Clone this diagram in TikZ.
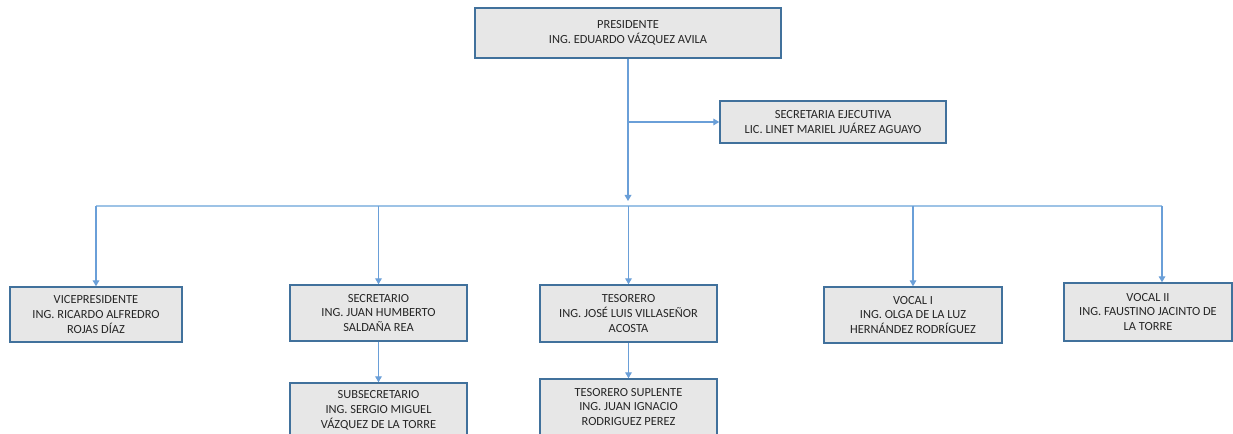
\documentclass[tikz,border=0pt]{standalone}
\usepackage{fontspec}
\setmainfont{Carlito}
\usetikzlibrary{arrows.meta}
\definecolor{boxfill}{HTML}{E7E7E7}
\definecolor{boxline}{HTML}{41719C}
\definecolor{linecol}{HTML}{6A9FD8}
\definecolor{buscol}{HTML}{9DC3E6}
\definecolor{txt}{HTML}{262626}
\tikzset{
  box/.style={draw=boxline, fill=boxfill, line width=1.1pt, align=center, inner sep=2pt,
    font=\fontsize{9.3}{11.2}\selectfont, text=txt},
  conn/.style={draw=linecol, line width=0.9pt, -{Triangle[width=5pt,length=4.5pt]}},
  bus/.style={draw=buscol, line width=0.9pt}
}
\begin{document}
\begin{tikzpicture}[x=0.75pt,y=-0.75pt]
\useasboundingbox (0,0) rectangle (1233,434);
\clip (0,0) rectangle (1233,434);
\fill[white] (0,0) rectangle (1233,434);
% boxes
\node[box, minimum width=306*0.75pt, minimum height=50*0.75pt] (pres) at (628,33) {PRESIDENTE\\ING. EDUARDO VÁZQUEZ AVILA};
\node[box, minimum width=226*0.75pt, minimum height=42*0.75pt] (sec) at (833,122) {SECRETARIA EJECUTIVA\\LIC. LINET MARIEL JUÁREZ AGUAYO};
\node[box, minimum width=172*0.75pt, minimum height=55*0.75pt] (vp) at (96,314.5) {VICEPRESIDENTE\\ING. RICARDO ALFREDRO\\ROJAS DÍAZ};
\node[box, minimum width=177*0.75pt, minimum height=56*0.75pt] (secr) at (378.5,313) {SECRETARIO\\ING. JUAN HUMBERTO\\SALDAÑA REA};
\node[box, minimum width=177*0.75pt, minimum height=57*0.75pt] (tes) at (628.5,313.5) {TESORERO\\ING. JOSÉ LUIS VILLASEÑOR\\ACOSTA};
\node[box, minimum width=178*0.75pt, minimum height=56*0.75pt] (v1) at (913,315) {VOCAL I\\ING. OLGA DE LA LUZ\\HERNÁNDEZ RODRÍGUEZ};
\node[box, minimum width=168*0.75pt, minimum height=58*0.75pt] (v2) at (1148,312) {VOCAL II\\ING. FAUSTINO JACINTO DE\\LA TORRE};
\node[box, minimum width=177*0.75pt, minimum height=54*0.75pt] (subs) at (378.5,410) {SUBSECRETARIO\\ING. SERGIO MIGUEL\\VÁZQUEZ DE LA TORRE};
\node[box, minimum width=177*0.75pt, minimum height=56*0.75pt] (tsup) at (628.5,407) {TESORERO SUPLENTE\\ING. JUAN IGNACIO\\RODRIGUEZ PEREZ};
% coordinates
\coordinate (pe) at (628,201);
\coordinate (sj) at (628,122);
\coordinate (b1) at (96,206);
\coordinate (b2) at (378.5,206);
\coordinate (b3) at (628.5,206);
\coordinate (b4) at (913,206);
\coordinate (b5) at (1162,206);
% connectors
\draw[conn] (pres.south) -- (pe);
\draw[conn] (sj) -- (sec.west);
\draw[bus] (b1) -- (b5);
\draw[conn] (b1) -- (vp.north);
\draw[conn] (b2) -- (secr.north);
\draw[conn] (b3) -- (tes.north);
\draw[conn] (b4) -- (v1.north);
\draw[conn] (b5) -- (b5 |- v2.north);
\draw[conn] (secr.south) -- (subs.north);
\draw[conn] (tes.south) -- (tsup.north);
\end{tikzpicture}
\end{document}
